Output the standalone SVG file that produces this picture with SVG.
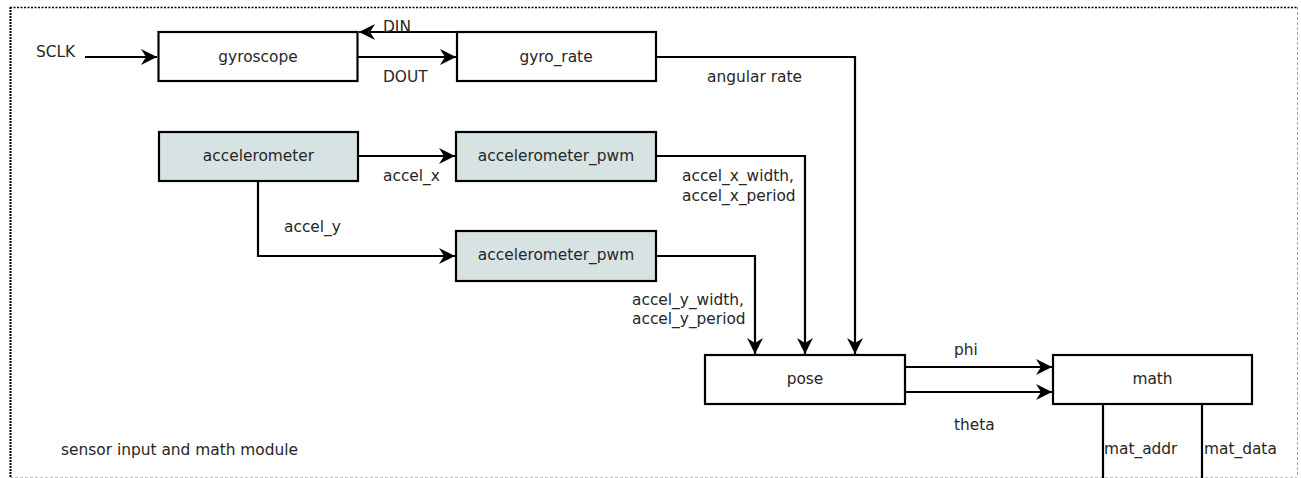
<svg xmlns="http://www.w3.org/2000/svg" width="1301" height="478" viewBox="0 0 1301 478">
  <style>
    .box { fill: #ffffff; stroke: #000000; stroke-width: 2.2; }
    .box.sensor { fill: #d7e3e3; }
    .wire { fill: none; stroke: #000000; stroke-width: 2.2; }
    .arrow { marker-end: url(#head); }
    text { font-family: "DejaVu Sans", "Liberation Sans", sans-serif; font-size: 15.4px; fill: #262626; }
    .mid { text-anchor: middle; }
  </style>
  <defs>
    <marker id="head" viewBox="-17 -9 18 18" refX="0" refY="0" markerWidth="18" markerHeight="18" markerUnits="userSpaceOnUse" orient="auto">
      <path d="M0,0 L-16,-8 L-11,0 L-16,8 Z" fill="#000000"/>
    </marker>
  </defs>

  <rect width="1301" height="478" fill="#ffffff"/>

  <!-- module frame -->
  <g id="frame">
    <line x1="10" y1="7.5" x2="1297" y2="7.5" stroke="#000000" stroke-width="1.5" stroke-dasharray="2 1.5"/>
    <line x1="10.5" y1="7" x2="10.5" y2="477" stroke="#000000" stroke-width="2" stroke-dasharray="2 1"/>
    <line x1="1297.5" y1="7" x2="1297.5" y2="477" stroke="#a0a0a0" stroke-width="1" stroke-dasharray="3 2"/>
    <line x1="10" y1="477.5" x2="1297" y2="477.5" stroke="#c0c0c0" stroke-width="1" stroke-dasharray="3 2"/>
    <text x="61" y="455">sensor input and math module</text>
  </g>

  <!-- connectors -->
  <g id="connectors">
    <path class="wire arrow" d="M85,57 H157"/>
    <path class="wire arrow" d="M457,32 H359"/>
    <path class="wire arrow" d="M358,57 H456"/>
    <path class="wire arrow" d="M656,57 H855 V354"/>
    <path class="wire arrow" d="M358,156 H455"/>
    <path class="wire arrow" d="M258,181 V256 H455"/>
    <path class="wire arrow" d="M656,156 H805 V354"/>
    <path class="wire arrow" d="M656,256 H755 V354"/>
    <path class="wire arrow" d="M905,367 H1052"/>
    <path class="wire arrow" d="M905,392 H1052"/>
    <path class="wire" d="M1103,404 V478"/>
    <path class="wire" d="M1202,404 V478"/>

    <text x="36" y="57">SCLK</text>
    <text x="383" y="32">DIN</text>
    <text x="383" y="82">DOUT</text>
    <text x="707" y="82">angular rate</text>
    <text x="383" y="181">accel_x</text>
    <text x="284" y="232">accel_y</text>
    <text x="682" y="181">accel_x_width,</text>
    <text x="682" y="201">accel_x_period</text>
    <text x="632" y="305">accel_y_width,</text>
    <text x="632" y="324">accel_y_period</text>
    <text x="954" y="355">phi</text>
    <text x="954" y="430">theta</text>
    <text x="1104" y="454">mat_addr</text>
    <text x="1204" y="454">mat_data</text>
  </g>

  <g id="gyroscope">
    <rect class="box" x="158.5" y="32" width="199" height="49"/>
    <text class="mid" x="258" y="62">gyroscope</text>
  </g>
  <g id="gyro_rate">
    <rect class="box" x="457" y="32" width="199" height="49"/>
    <text class="mid" x="556" y="62">gyro_rate</text>
  </g>
  <g id="accelerometer">
    <rect class="box sensor" x="159" y="132" width="199" height="49"/>
    <text class="mid" x="258.5" y="161">accelerometer</text>
  </g>
  <g id="accelerometer_pwm_x">
    <rect class="box sensor" x="456" y="132" width="200" height="49"/>
    <text class="mid" x="556" y="161">accelerometer_pwm</text>
  </g>
  <g id="accelerometer_pwm_y">
    <rect class="box sensor" x="456" y="231" width="200" height="50"/>
    <text class="mid" x="556" y="260">accelerometer_pwm</text>
  </g>
  <g id="pose">
    <rect class="box" x="705" y="355" width="200" height="49"/>
    <text class="mid" x="805" y="384">pose</text>
  </g>
  <g id="math">
    <rect class="box" x="1053" y="355" width="199" height="49"/>
    <text class="mid" x="1152.5" y="384">math</text>
  </g>
</svg>
